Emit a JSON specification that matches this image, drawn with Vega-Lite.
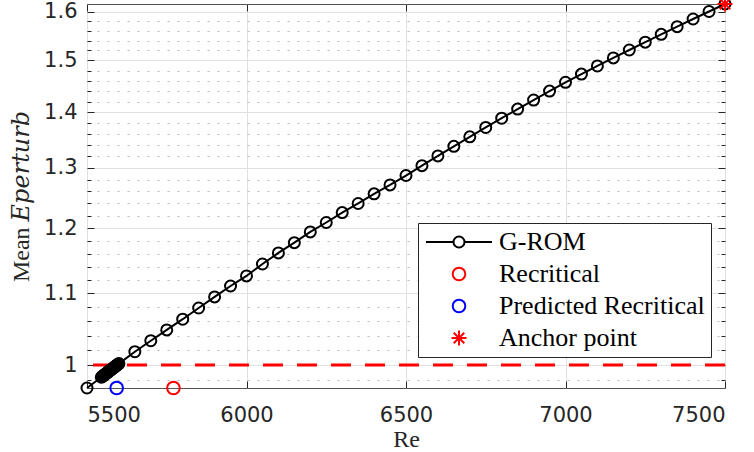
{
  "$schema": "https://vega.github.io/schema/vega-lite/v6.json",
  "width": 638,
  "height": 384,
  "autosize": "none",
  "padding": {"left": 87, "top": 4, "right": 29, "bottom": 64},
  "background": "white",
  "config": {
    "view": {"stroke": "#555555", "strokeWidth": 1},
    "axis": {
      "labelFont": "DejaVu Sans",
      "labelFontSize": 21,
      "labelColor": "#262626",
      "titleFont": "Liberation Serif, DejaVu Serif",
      "titleFontSize": 24,
      "titleFontWeight": "normal",
      "titleColor": "#262626",
      "domain": false,
      "tickColor": "#262626",
      "tickWidth": 1,
      "gridColor": "#e0e0e0",
      "gridWidth": 1
    }
  },
  "datasets": {
    "grom": [
      {"Re": 5500, "E": 0.970}, {"Re": 5545, "E": 0.984}, {"Re": 5547.5, "E": 0.9848}, {"Re": 5550, "E": 0.9856},
      {"Re": 5552.5, "E": 0.9865}, {"Re": 5555, "E": 0.9873}, {"Re": 5557.5, "E": 0.9881}, {"Re": 5560, "E": 0.9889},
      {"Re": 5562.5, "E": 0.9897}, {"Re": 5565, "E": 0.9905}, {"Re": 5567.5, "E": 0.9914}, {"Re": 5570, "E": 0.9922},
      {"Re": 5572.5, "E": 0.993}, {"Re": 5575, "E": 0.9938}, {"Re": 5577.5, "E": 0.9947}, {"Re": 5580, "E": 0.9955},
      {"Re": 5582.5, "E": 0.9963}, {"Re": 5585, "E": 0.9971}, {"Re": 5587.5, "E": 0.9979}, {"Re": 5590, "E": 0.9987},
      {"Re": 5592.5, "E": 0.9996}, {"Re": 5595, "E": 1.0004}, {"Re": 5597.5, "E": 1.0012},
      {"Re": 5600, "E": 1.002}, {"Re": 5650, "E": 1.018}, {"Re": 5700, "E": 1.033}, {"Re": 5750, "E": 1.048},
      {"Re": 5800, "E": 1.063}, {"Re": 5850, "E": 1.079}, {"Re": 5900, "E": 1.095}, {"Re": 5950, "E": 1.111},
      {"Re": 6000, "E": 1.126}, {"Re": 6050, "E": 1.144}, {"Re": 6100, "E": 1.161}, {"Re": 6150, "E": 1.177},
      {"Re": 6200, "E": 1.194}, {"Re": 6250, "E": 1.209}, {"Re": 6300, "E": 1.225}, {"Re": 6350, "E": 1.240},
      {"Re": 6400, "E": 1.256}, {"Re": 6450, "E": 1.271}, {"Re": 6500, "E": 1.287}, {"Re": 6550, "E": 1.304},
      {"Re": 6600, "E": 1.321}, {"Re": 6650, "E": 1.338}, {"Re": 6700, "E": 1.355}, {"Re": 6750, "E": 1.372},
      {"Re": 6800, "E": 1.389}, {"Re": 6850, "E": 1.406}, {"Re": 6900, "E": 1.423}, {"Re": 6950, "E": 1.440},
      {"Re": 7000, "E": 1.457}, {"Re": 7050, "E": 1.473}, {"Re": 7100, "E": 1.489}, {"Re": 7150, "E": 1.505},
      {"Re": 7200, "E": 1.521}, {"Re": 7250, "E": 1.537}, {"Re": 7300, "E": 1.553}, {"Re": 7350, "E": 1.569},
      {"Re": 7400, "E": 1.585}, {"Re": 7450, "E": 1.601}, {"Re": 7500, "E": 1.617}
    ],
    "special": [
      {"Re": 5771, "E": 0.970, "series": "Recritical"},
      {"Re": 5593, "E": 0.970, "series": "Predicted Recritical"},
      {"Re": 7500, "E": 1.617, "series": "Anchor point"}
    ],
    "threshold": [{"E": 1}]
  },
  "layer": [
    {
      "data": {"name": "threshold"},
      "mark": {"type": "rule", "color": "#ff0000", "strokeWidth": 3, "strokeDash": [20, 14]},
      "encoding": {
        "y": {
          "field": "E", "type": "quantitative",
          "scale": {"type": "log", "domain": [0.97, 1.617], "nice": false, "zero": false},
          "axis": {
            "orient": "left", "title": null, "labels": false,
            "values": [0.98, 1.02, 1.04, 1.06, 1.08, 1.12, 1.14, 1.16, 1.18, 1.22, 1.24, 1.26, 1.28, 1.32, 1.34, 1.36, 1.38, 1.42, 1.44, 1.46, 1.48, 1.52, 1.54, 1.56, 1.58],
            "grid": true, "gridDash": [2, 8], "gridColor": "#b8b8b8", "tickSize": -4
          }
        }
      }
    },
    {
      "data": {"name": "grom"},
      "mark": {"type": "line", "color": "#000000", "strokeWidth": 2},
      "encoding": {
        "x": {
          "field": "Re", "type": "quantitative",
          "scale": {"domain": [5500, 7500], "nice": false, "zero": false},
          "axis": {"orient": "bottom", "values": [5500, 6000, 6500, 7000, 7500], "format": "d", "grid": true, "tickSize": -7, "labelPadding": 23, "title": "Re", "titlePadding": 2}
        },
        "y": {
          "field": "E", "type": "quantitative",
          "scale": {"type": "log", "domain": [0.97, 1.617], "nice": false, "zero": false},
          "axis": {"orient": "left", "values": [1, 1.1, 1.2, 1.3, 1.4, 1.5, 1.6], "format": "~g", "grid": true, "tickSize": -7, "labelPadding": 17, "title": "Mean 𝐸𝑝𝑒𝑟𝑡𝑢𝑟𝑏", "titlePadding": 10}
        }
      }
    },
    {
      "data": {"name": "grom"},
      "mark": {"type": "point", "shape": "circle", "size": 121, "filled": false, "stroke": "#000000", "strokeWidth": 2, "opacity": 1},
      "encoding": {
        "x": {
          "field": "Re", "type": "quantitative",
          "axis": {"orient": "top", "values": [5500, 6000, 6500, 7000, 7500], "labels": false, "grid": false, "tickSize": -7, "title": null}
        },
        "y": {
          "field": "E", "type": "quantitative",
          "axis": {
            "orient": "right", "labels": false, "grid": false, "tickSize": -4, "title": null,
            "values": [0.98, 1.02, 1.04, 1.06, 1.08, 1.12, 1.14, 1.16, 1.18, 1.22, 1.24, 1.26, 1.28, 1.32, 1.34, 1.36, 1.38, 1.42, 1.44, 1.46, 1.48, 1.52, 1.54, 1.56, 1.58]
          }
        }
      }
    },
    {
      "data": {"name": "special"},
      "mark": {"type": "point", "size": 144, "filled": false, "strokeWidth": 2, "opacity": 1},
      "encoding": {
        "x": {"field": "Re", "type": "quantitative", "axis": null},
        "y": {
          "field": "E", "type": "quantitative",
          "axis": {"orient": "right", "values": [1, 1.1, 1.2, 1.3, 1.4, 1.5, 1.6], "labels": false, "grid": false, "tickSize": -7, "title": null}
        },
        "color": {
          "field": "series", "type": "nominal",
          "scale": {"domain": ["G-ROM", "Recritical", "Predicted Recritical", "Anchor point"], "range": ["#000000", "#ff0000", "#0000ff", "#ff0000"]},
          "legend": {"title": null, "orient": "none", "legendX": 331, "legendY": 219, "fillColor": "#ffffff", "strokeColor": "#262626", "padding": 6, "symbolSize": 144, "symbolStrokeWidth": 2, "symbolOffset": 22, "labelOffset": 27, "labelLimit": 400, "labelFont": "Liberation Serif", "labelFontSize": 26, "labelColor": "#000000", "rowPadding": 6}
        },
        "shape": {
          "field": "series", "type": "nominal",
          "scale": {
            "domain": ["G-ROM", "Recritical", "Predicted Recritical", "Anchor point"],
            "range": [
              "M-5.5,0L-0.92,0M0.92,0L5.5,0M0.92,0A0.92,0.92 0 1 1 -0.92,0A0.92,0.92 0 1 1 0.92,0",
              "M1.05,0A1.05,1.05 0 1 1 -1.05,0A1.05,1.05 0 1 1 1.05,0",
              "M1.05,0A1.05,1.05 0 1 1 -1.05,0A1.05,1.05 0 1 1 1.05,0",
              "M-1.25,0L1.25,0M0,-1.25L0,1.25M-0.88,-0.88L0.88,0.88M-0.88,0.88L0.88,-0.88"
            ]
          },
          "legend": {"title": null, "orient": "none", "legendX": 331, "legendY": 219, "fillColor": "#ffffff", "strokeColor": "#262626", "padding": 6, "symbolSize": 144, "symbolStrokeWidth": 2, "symbolOffset": 22, "labelOffset": 27, "labelLimit": 400, "labelFont": "Liberation Serif", "labelFontSize": 26, "labelColor": "#000000", "rowPadding": 6}
        }
      }
    }
  ],
  "resolve": {"axis": {"x": "independent", "y": "independent"}}
}
